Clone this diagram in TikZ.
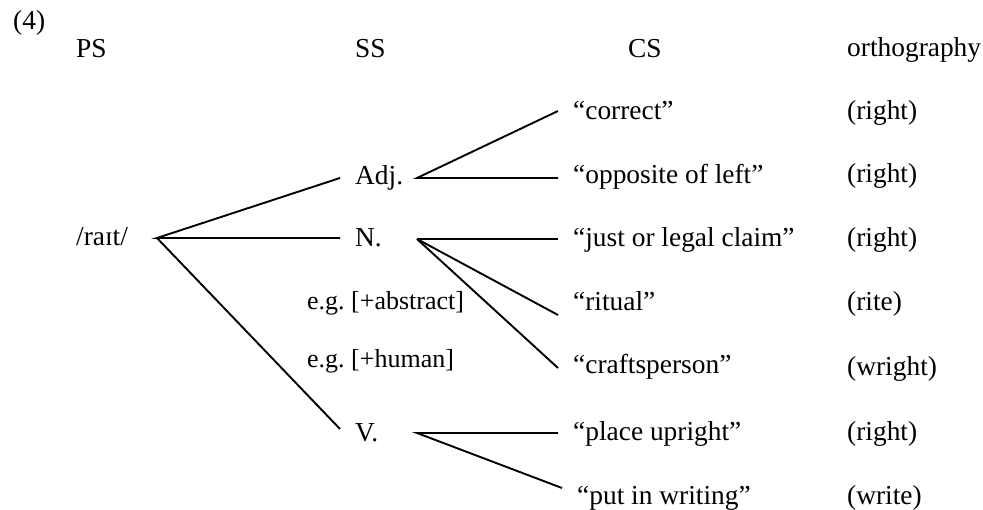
\documentclass[tikz,border=0pt]{standalone}
\usepackage{fontspec}
\setmainfont{Liberation Serif}
\newcommand\mainfs{\fontsize{27.4}{32}\selectfont}
\newcommand\smallfs{\fontsize{26}{30}\selectfont}
\frenchspacing
\begin{document}
\begin{tikzpicture}[x=1pt,y=-1pt,
  txt/.style={inner sep=0pt, anchor=base west, font=\mainfs},
  smalltxt/.style={inner sep=0pt, anchor=base west, font=\smallfs},
  branch/.style={line width=1.9pt}]
\useasboundingbox (0,0) rectangle (983,510);
% headers
\node[txt] (num) at (13,30) {(4)};
\node[txt] (ps) at (76,58) {PS};
\node[txt] (ss) at (355,58) {SS};
\node[txt] (cs) at (628,58) {CS};
\node[txt] (orth) at (847,57) {orthography};
% PS
\node[txt] (rait) at (76,246) {/raɪt/};
% SS
\node[txt] (adj) at (355,185) {Adj.};
\node[txt] (n) at (355,247) {N.};
\node[smalltxt] (abs) at (307,310) {e.g. [+abstract]};
\node[smalltxt] (hum) at (307,368) {e.g. [+human]};
\node[txt] (v) at (355,442) {V.};
% CS
\node[txt] (c1) at (573,120) {“correct”};
\node[txt] (c2) at (573,184) {“opposite of left”};
\node[txt] (c3) at (573,247) {“just or legal claim”};
\node[txt] (c4) at (573,311) {“ritual”};
\node[txt] (c5) at (573,374) {“craftsperson”};
\node[txt] (c6) at (573,441) {“place upright”};
\node[txt] (c7) at (577,504) {“put in writing”};
% orthography
\node[txt] (o1) at (847,120) {(right)};
\node[txt] (o2) at (847,183) {(right)};
\node[txt] (o3) at (847,247) {(right)};
\node[txt] (o4) at (847,311) {(rite)};
\node[txt] (o5) at (847,376) {(wright)};
\node[txt] (o6) at (847,441) {(right)};
\node[txt] (o7) at (847,504) {(write)};
% junction points
\coordinate (raitO) at (157,238);
\coordinate (adjI) at (340,178);
\coordinate (nI) at (340,238);
\coordinate (vI) at (340,429);
\coordinate (adjO) at (417,178);
\coordinate (nO) at (417,239);
\coordinate (vO) at (417,433);
\coordinate (c1I) at (558,111);
\coordinate (c2I) at (558,178);
\coordinate (c3I) at (558,239);
\coordinate (c4I) at (558,315);
\coordinate (c5I) at (558,368);
\coordinate (c6I) at (558,433);
\coordinate (c7I) at (562,488);
% branches
\draw[branch] (adjI) -- (raitO) -- (nI);
\draw[branch] (raitO) -- (vI);
\draw[branch] (c1I) -- (adjO) -- (c2I);
\draw[branch] (nO) -- (c3I);
\draw[branch] (nO) -- (c4I);
\draw[branch] (nO) -- (c5I);
\draw[branch] (c6I) -- (vO) -- (c7I);
\end{tikzpicture}
\end{document}
